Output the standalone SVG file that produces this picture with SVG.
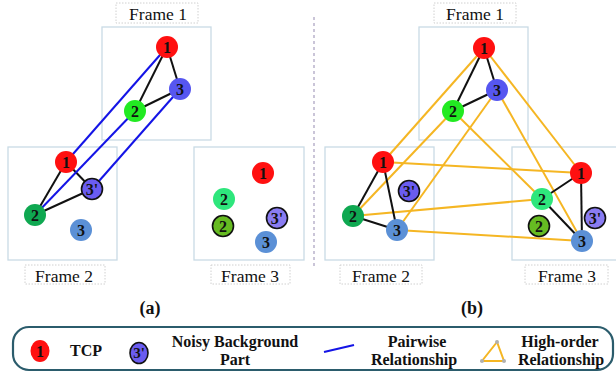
<svg xmlns="http://www.w3.org/2000/svg" width="616" height="372" viewBox="0 0 616 372">
<style>
.frame{fill:none;stroke:#c9dbe5;stroke-width:1.3}
.lbl{fill:#fff;stroke:#d0d0d0;stroke-width:1;stroke-dasharray:1.5,1.5}
text{font-family:'Liberation Serif','Times New Roman','DejaVu Serif',serif;fill:#111;text-anchor:middle}
.ft{font-size:17.5px}
.nt{font-size:16px;font-weight:bold}
.lt{font-size:16px;font-weight:bold}
.cap{font-size:18px;font-weight:bold}
.blk{stroke:#111;stroke-width:2;fill:none}
.blu{stroke:#1414e6;stroke-width:2;fill:none}
.org{stroke:#f5b623;stroke-width:2;fill:none}
.red{fill:#ff1010}
.g1{fill:#22ea22}
.b1{fill:#5656f0}
.pp{fill:#6a5cf0;stroke:#111;stroke-width:1.6}
.pp2{fill:#8a7cf2;stroke:#111;stroke-width:1.6}
.g2{fill:#0fa851}
.sb{fill:#5b90d6}
.g3{fill:#2ee67c}
.lg{fill:#66bb22;stroke:#111;stroke-width:1.6}
</style>

<!-- divider -->
<line x1="314" y1="17" x2="314" y2="267" stroke="#b9b2cc" stroke-width="1.5" stroke-dasharray="3,3"/>

<!-- frames -->
<g id="frames">
<rect class="frame" x="102" y="27" width="109" height="113"/>
<rect class="frame" x="8" y="147" width="109" height="113"/>
<rect class="frame" x="194" y="147" width="110" height="113"/>
<rect class="frame" x="419" y="27" width="109" height="113"/>
<rect class="frame" x="325" y="147" width="109" height="113"/>
<rect class="frame" x="512" y="147" width="110" height="113"/>
</g>

<!-- frame labels -->
<g id="frame-labels" font-family="'Liberation Serif','Times New Roman',serif">
<rect class="lbl" x="116" y="3" width="82" height="20"/><text class="ft" x="158" y="20">Frame 1</text>
<rect class="lbl" x="25" y="265" width="80" height="19"/><text class="ft" x="64" y="282">Frame 2</text>
<rect class="lbl" x="211" y="265" width="79" height="19"/><text class="ft" x="250" y="282">Frame 3</text>
<rect class="lbl" x="434" y="3" width="82" height="20"/><text class="ft" x="475" y="20">Frame 1</text>
<rect class="lbl" x="340" y="265" width="82" height="19"/><text class="ft" x="381" y="282">Frame 2</text>
<rect class="lbl" x="525" y="265" width="83" height="19"/><text class="ft" x="567" y="282">Frame 3</text>
</g>

<!-- connectors -->
<g id="connectors">
<line class="blk" x1="167" y1="47" x2="135" y2="111"/>
<line class="blk" x1="167" y1="47" x2="180" y2="89"/>
<line class="blk" x1="135" y1="111" x2="180" y2="89"/>
<line class="blk" x1="66" y1="162" x2="35" y2="215"/>
<line class="blk" x1="66" y1="162" x2="92" y2="189"/>
<line class="blk" x1="35" y1="215" x2="92" y2="189"/>
<line class="blu" x1="167" y1="47" x2="66" y2="162"/>
<line class="blu" x1="135" y1="111" x2="35" y2="215"/>
<line class="blu" x1="180" y1="89" x2="92" y2="189"/>
<line class="org" x1="484" y1="48" x2="383" y2="162"/>
<line class="org" x1="484" y1="48" x2="581" y2="173"/>
<line class="org" x1="453" y1="111" x2="353" y2="216"/>
<line class="org" x1="453" y1="111" x2="542" y2="199"/>
<line class="org" x1="497" y1="90" x2="397" y2="230"/>
<line class="org" x1="497" y1="90" x2="582" y2="241"/>
<line class="org" x1="383" y1="162" x2="581" y2="173"/>
<line class="org" x1="353" y1="216" x2="542" y2="199"/>
<line class="org" x1="397" y1="230" x2="582" y2="241"/>
<line class="blk" x1="484" y1="48" x2="453" y2="111"/>
<line class="blk" x1="484" y1="48" x2="497" y2="90"/>
<line class="blk" x1="453" y1="111" x2="497" y2="90"/>
<line class="blk" x1="383" y1="162" x2="353" y2="216"/>
<line class="blk" x1="383" y1="162" x2="397" y2="230"/>
<line class="blk" x1="353" y1="216" x2="397" y2="230"/>
<line class="blk" x1="581" y1="173" x2="542" y2="199"/>
<line class="blk" x1="581" y1="173" x2="582" y2="241"/>
<line class="blk" x1="542" y1="199" x2="582" y2="241"/>
</g>

<!-- left panel nodes -->
<g id="a-f1-n1"><circle class="red" cx="167" cy="47" r="11"/><text class="nt" x="167" y="52.5">1</text></g>
<g id="a-f1-n3"><circle class="b1" cx="180" cy="89" r="11"/><text class="nt" x="180" y="94.5">3</text></g>
<g id="a-f1-n2"><circle class="g1" cx="135" cy="111" r="11"/><text class="nt" x="135" y="116.5">2</text></g>
<g id="a-f2-n1"><circle class="red" cx="66" cy="162" r="11"/><text class="nt" x="66" y="167.5">1</text></g>
<g id="a-f2-n3p"><circle class="pp" cx="92" cy="189" r="10.5"/><text class="nt" x="92" y="194.5">3'</text></g>
<g id="a-f2-n2"><circle class="g2" cx="35" cy="215" r="11"/><text class="nt" x="35" y="220.5">2</text></g>
<g id="a-f2-n3"><circle class="sb" cx="81" cy="230" r="11"/><text class="nt" x="81" y="235.5">3</text></g>
<g id="a-f3-n1"><circle class="red" cx="263" cy="173" r="11"/><text class="nt" x="263" y="178.5">1</text></g>
<g id="a-f3-n2"><circle class="g3" cx="224" cy="199" r="11"/><text class="nt" x="224" y="204.5">2</text></g>
<g id="a-f3-n2b"><circle class="lg" cx="223" cy="226" r="10.5"/><text class="nt" x="223" y="231.5">2</text></g>
<g id="a-f3-n3p"><circle class="pp2" cx="277" cy="218" r="10.5"/><text class="nt" x="277" y="223.5">3'</text></g>
<g id="a-f3-n3"><circle class="sb" cx="266" cy="242" r="11"/><text class="nt" x="266" y="247.5">3</text></g>

<!-- right panel nodes -->
<g id="b-f1-n1"><circle class="red" cx="484" cy="48" r="11"/><text class="nt" x="484" y="53.5">1</text></g>
<g id="b-f1-n3"><circle class="b1" cx="497" cy="90" r="11"/><text class="nt" x="497" y="95.5">3</text></g>
<g id="b-f1-n2"><circle class="g1" cx="453" cy="111" r="11"/><text class="nt" x="453" y="116.5">2</text></g>
<g id="b-f2-n1"><circle class="red" cx="383" cy="162" r="11"/><text class="nt" x="383" y="167.5">1</text></g>
<g id="b-f2-n3p"><circle class="pp" cx="409" cy="191" r="10.5"/><text class="nt" x="409" y="196.5">3'</text></g>
<g id="b-f2-n2"><circle class="g2" cx="353" cy="216" r="11"/><text class="nt" x="353" y="221.5">2</text></g>
<g id="b-f2-n3"><circle class="sb" cx="397" cy="230" r="11"/><text class="nt" x="397" y="235.5">3</text></g>
<g id="b-f3-n1"><circle class="red" cx="581" cy="173" r="11"/><text class="nt" x="581" y="178.5">1</text></g>
<g id="b-f3-n2"><circle class="g3" cx="542" cy="199" r="11"/><text class="nt" x="542" y="204.5">2</text></g>
<g id="b-f3-n2b"><circle class="lg" cx="539" cy="226" r="10.5"/><text class="nt" x="539" y="231.5">2</text></g>
<g id="b-f3-n3p"><circle class="pp2" cx="595" cy="218" r="10.5"/><text class="nt" x="595" y="223.5">3'</text></g>
<g id="b-f3-n3"><circle class="sb" cx="582" cy="241" r="11"/><text class="nt" x="582" y="246.5">3</text></g>

<!-- captions -->
<text class="cap" x="150" y="314">(a)</text>
<text class="cap" x="472" y="314">(b)</text>

<!-- legend -->
<g id="legend">
<rect x="13" y="327" width="600" height="43" rx="16" ry="16" fill="none" stroke="#2b5c6c" stroke-width="2.2"/>
<ellipse cx="40" cy="351" rx="9.5" ry="11" fill="#ff1010"/>
<text class="nt" x="40" y="356.5">1</text>
<text class="lt" x="86" y="356">TCP</text>
<ellipse cx="139" cy="353" rx="9" ry="10.5" fill="#6a5cf0" stroke="#111" stroke-width="1.6"/>
<text class="nt" x="139" y="358" style="font-size:15px">3'</text>
<text class="lt" x="235" y="347">Noisy Background</text>
<text class="lt" x="235" y="365">Part</text>
<line x1="324" y1="352" x2="354" y2="345" stroke="#1414e6" stroke-width="2.2"/>
<text class="lt" x="417" y="347">Pairwise</text>
<text class="lt" x="414" y="365">Relationship</text>
<polygon points="497,342 482,361 504,361" fill="none" stroke="#f5b623" stroke-width="2"/>
<circle cx="497" cy="342" r="2" fill="#b0b0b0"/>
<circle cx="482" cy="361" r="2" fill="#b0b0b0"/>
<circle cx="504" cy="361" r="2" fill="#b0b0b0"/>
<text class="lt" x="560" y="347">High-order</text>
<text class="lt" x="561" y="365">Relationship</text>
</g>
</svg>
